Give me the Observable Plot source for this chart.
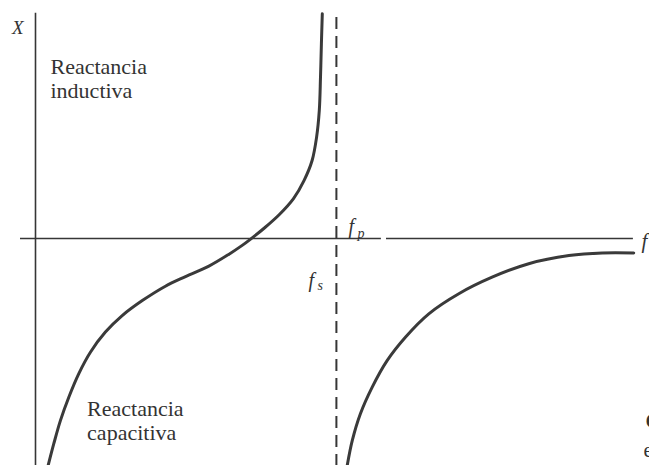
<!DOCTYPE html>
<html>
<head>
<meta charset="utf-8">
<script src="https://cdn.jsdelivr.net/npm/d3@7"></script>
<script src="https://cdn.jsdelivr.net/npm/@observablehq/plot@0.6"></script>
<style>
  html, body { margin: 0; padding: 0; background: #ffffff; }
  #chart svg { display: block; }
</style>
</head>
<body>
<div id="chart"></div>
<script>
// Crystal reactance X against frequency f (arbitrary units).
// Branch below the parallel resonance: capacitive, crosses zero at f_s, rises towards +inf near f_p.
const freqLow  = [0.42, 0.61, 0.83, 1.11, 1.44, 1.83, 2.33, 2.89, 3.56, 4.33, 5.00, 5.78, 6.44, 6.89, 7.17, 7.63, 8.13, 8.60, 8.95, 9.22, 9.37, 9.46, 9.50, 9.53, 9.56];
const reactLow = [-7.57, -6.84, -6.07, -5.29, -4.51, -3.79, -3.12, -2.57, -2.07, -1.59, -1.27, -0.92, -0.53, -0.23, -0.02, 0.35, 0.80, 1.33, 1.93, 2.60, 3.38, 4.27, 5.38, 6.49, 7.49];

// Branch above the parallel resonance: capacitive again, levelling off just below zero.
const freqHigh  = [10.39, 10.56, 10.83, 11.22, 11.72, 12.33, 13.11, 14.11, 15.22, 16.44, 17.78, 18.89, 19.94];
const reactHigh = [-7.57, -6.73, -5.84, -4.96, -4.07, -3.29, -2.51, -1.84, -1.29, -0.84, -0.57, -0.48, -0.48];

// Resonance marker (dashed line)
const fParallel = 10.03;

// Region labels
const regionLabels = ["Reactancia\ninductiva", "Reactancia\ncapacitiva"];

const low = freqLow.map((f, i) => ({f, x: reactLow[i]}));
const high = freqHigh.map((f, i) => ({f, x: reactHigh[i]}));

const ink = "#363636";
const serif = "Liberation Serif";
const txt = {textAnchor: "start", lineAnchor: "bottom", fill: "#333", fontFamily: serif};

const chart = Plot.plot({
  width: 649,
  height: 465,
  marginLeft: 35,
  marginRight: 14,
  marginTop: 13,
  marginBottom: 2,
  x: {domain: [0, 20], axis: null},
  y: {domain: [-7.5, 7.5], axis: null},
  style: {background: "#ffffff"},
  marks: [
    // f axis (with a small break after the f_p label)
    Plot.ruleY([0], {x1: -0.5, x2: 11.53, stroke: ink, strokeWidth: 1.6}),
    Plot.ruleY([0], {x1: 11.7, x2: 19.93, stroke: ink, strokeWidth: 1.6}),
    // X axis
    Plot.ruleX([0], {y1: -7.6, y2: 7.51, stroke: ink, strokeWidth: 1.6}),
    // dashed resonance line
    Plot.ruleX([fParallel], {y1: -7.6, y2: 7.5, stroke: ink, strokeWidth: 2, strokeDasharray: "12,7"}),
    // reactance curves
    Plot.line(low, {x: "f", y: "x", curve: "catmull-rom", stroke: "#3a3a3a", strokeWidth: 3}),
    Plot.line(high, {x: "f", y: "x", curve: "catmull-rom", stroke: "#3a3a3a", strokeWidth: 3}),
    // region labels
    Plot.text([regionLabels[0]], {...txt, x: 0.5, y: 4.667, text: d => d, lineHeight: 1.1, fontSize: 22}),
    Plot.text([regionLabels[1]], {...txt, x: 1.72, y: -6.733, text: d => d, lineHeight: 1.1, fontSize: 22}),
    // axis names
    Plot.text(["X"], {...txt, x: -0.4, y: 6.83, text: d => d, textAnchor: "end", fontSize: 19, fontStyle: "italic"}),
    Plot.text(["f"], {...txt, x: 20.2, y: -0.3, text: d => d, fontSize: 21, fontStyle: "italic"}),
    // f_p and f_s
    Plot.text(["f"], {...txt, x: 10.43, y: 0.167, text: d => d, fontSize: 20, fontStyle: "italic"}),
    Plot.text(["p"], {...txt, x: 10.73, y: 0.03, text: d => d, fontSize: 14, fontStyle: "italic"}),
    Plot.text(["f"], {...txt, x: 9.1, y: -1.633, text: d => d, fontSize: 20, fontStyle: "italic"}),
    Plot.text(["s"], {...txt, x: 9.4, y: -1.73, text: d => d, fontSize: 14, fontStyle: "italic"}),
    // start of the neighbouring caption, cut by the page edge
    Plot.text(["C"], {...txt, x: 20.33, y: -6.3, text: d => d, fontSize: 21, fontWeight: "bold"}),
    Plot.text(["e"], {...txt, x: 20.27, y: -7.27, text: d => d, fontSize: 21})
  ]
});

document.getElementById("chart").appendChild(chart);
</script>
</body>
</html>
